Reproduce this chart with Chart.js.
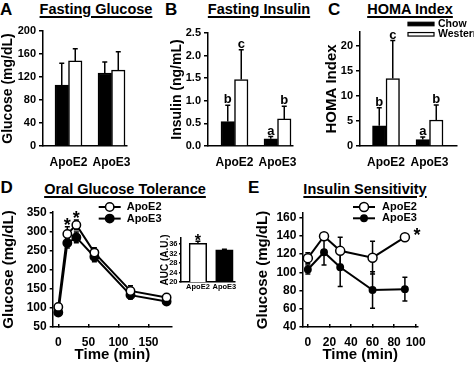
<!DOCTYPE html>
<html>
<head>
<meta charset="utf-8">
<script src="https://cdn.jsdelivr.net/npm/chart.js@4.4.0/dist/chart.umd.min.js"></script>
<style>
  body { margin: 0; background: #fff; width: 474px; height: 365px; overflow: hidden; position: relative;
         font-family: 'Liberation Sans', Arial, sans-serif; font-weight: bold; color: #000; }
  canvas { position: absolute; }
  .ttl { position: absolute; font-size: 14.5px; line-height: 1; white-space: nowrap; transform: translateX(-50%);
         text-decoration: underline; text-decoration-thickness: 1.5px; text-underline-offset: 2px; }
  .ltr { position: absolute; font-size: 17px; line-height: 1; }
</style>
</head>
<body>
<div class="ltr" style="left:0px;top:0.6px">A</div>
<div class="ltr" style="left:165px;top:0.6px">B</div>
<div class="ltr" style="left:328px;top:0.6px">C</div>
<div class="ltr" style="left:0.5px;top:179px">D</div>
<div class="ltr" style="left:248px;top:179px">E</div>
<div class="ttl" style="left:96px;top:1.7px">Fasting Glucose</div>
<div class="ttl" style="left:259px;top:1.7px">Fasting Insulin</div>
<div class="ttl" style="left:410px;top:1.7px">HOMA Index</div>
<div class="ttl" style="left:125px;top:181.7px">Oral Glucose Tolerance</div>
<div class="ttl" style="left:365px;top:181.7px">Insulin Sensitivity</div>
<script>
const FONT = "'Liberation Sans', Arial, sans-serif";

// ---- data ----
const groups = ['ApoE2', 'ApoE3'];
const diets = ['Chow', 'Western'];

// A: fasting glucose (mg/dL)
const glucoseChow = [106, 127];
const glucoseChowErr = [38, 19];
const glucoseWestern = [148, 132];
const glucoseWesternErr = [21, 32];
const glucoseTicks = [0, 40, 80, 120, 160, 200];

// B: fasting insulin (ng/mL)
const insulinChow = [0.54, 0.16];
const insulinChowErr = [0.36, 0.05];
const insulinWestern = [1.47, 0.60];
const insulinWesternErr = [0.66, 0.28];
const insulinTicks = [0, 0.5, 1, 1.5, 2, 2.5];

// C: HOMA index
const homaChow = [4.05, 1.3];
const homaChowErr = [3.6, 0.5];
const homaWestern = [13.5, 5.2];
const homaWesternErr = [7.6, 3.0];
const homaTicks = [0, 5, 10, 15, 20];

// letters above bars (B and C)
const chowLetters = ['b', 'a'];
const westernLetters = ['c', 'b'];

// D: oral glucose tolerance (mg/dL)
const ogttTime = [0, 15, 30, 60, 120, 180];
const ogttE2 = [103, 295, 319, 246, 145, 128];
const ogttE2Err = [5, 19, 13, 13, 14, 9];
const ogttE3 = [88, 271, 286, 235, 134, 117];
const ogttE3Err = [6, 13, 14, 13, 10, 6];
const ogttStars = ['', '*', '*', '', '', ''];
const ogttTicksY = [50, 100, 150, 200, 250, 300, 350];
const ogttTicksX = [0, 50, 100, 150];

// D inset: AUC (A.U.)
const aucValues = [36.3, 33.5];
const aucErr = [0.8, 0.3];
const aucStars = ['*', ''];
const aucTicks = [20, 24, 28, 32, 36];

// E: insulin sensitivity (mg/dL)
const itTime = [0, 15, 30, 60, 90];
const itE2 = [115.5, 139.5, 123.5, 116, 138.5];
const itE2Err = [6, 2, 15, 18, 0];
const itE3 = [103, 122, 105.5, 80.5, 81.5];
const itE3Err = [5, 14, 21, 20, 13];
const itStars = ['', '', '', '', '*'];
const itTicksY = [40, 60, 80, 100, 120, 140, 160];
const itTicksX = [0, 20, 40, 60, 80, 100];

// ---- setup ----
Chart.defaults.font.family = FONT;
Chart.defaults.font.weight = 'bold';
Chart.defaults.color = '#000';
Chart.defaults.animation = false;
Chart.defaults.plugins.legend.display = false;
Chart.defaults.plugins.tooltip.enabled = false;

function makeCanvas(left, top, width, height) {
  const c = document.createElement('canvas');
  c.width = width; c.height = height;
  c.style.left = left + 'px'; c.style.top = top + 'px';
  c.style.width = width + 'px'; c.style.height = height + 'px';
  document.body.appendChild(c);
  return c;
}

// error bars + letters/stars, read from the dataset
const errorPlugin = {
  id: 'errorMarks',
  beforeDatasetsDraw(chart) {
    const ctx = chart.ctx, ys = chart.scales.y;
    ctx.save();
    ctx.strokeStyle = '#000';
    chart.data.datasets.forEach((ds, i) => {
      if (!ds.errors) return;
      const meta = chart.getDatasetMeta(i);
      ctx.lineWidth = ds.errWidth || 1.5;
      meta.data.forEach((el, j) => {
        const v = ds.data[j].y, e = ds.errors[j];
        if (!e) return;
        const top = ys.getPixelForValue(v + e);
        const bot = ys.getPixelForValue(ds.errUpOnly ? v : v - e);
        const c = ds.capWidth / 2;
        ctx.beginPath();
        ctx.moveTo(el.x, bot); ctx.lineTo(el.x, top);
        ctx.moveTo(el.x - c, top); ctx.lineTo(el.x + c, top);
        if (!ds.errUpOnly) { ctx.moveTo(el.x - c, bot); ctx.lineTo(el.x + c, bot); }
        ctx.stroke();
      });
    });
    ctx.restore();
  },
  afterDatasetsDraw(chart) {
    const ctx = chart.ctx, ys = chart.scales.y;
    ctx.save();
    ctx.fillStyle = '#000';
    ctx.textAlign = 'center';
    ctx.textBaseline = 'alphabetic';
    chart.data.datasets.forEach((ds, i) => {
      if (!ds.notes) return;
      const meta = chart.getDatasetMeta(i);
      ctx.font = 'bold ' + ds.noteFont + 'px ' + FONT;
      meta.data.forEach((el, j) => {
        const t = ds.notes[j];
        if (!t) return;
        const top = ys.getPixelForValue(ds.data[j].y + (ds.errors[j] || 0));
        ctx.fillText(t, el.x + ds.noteOffset[0], top + ds.noteOffset[1]);
      });
    });
    ctx.restore();
  }
};

function legendPlugin(cfg) {
  return {
    id: 'legendSample',
    afterDraw(chart) {
      const ctx = chart.ctx, a = chart.chartArea;
      ctx.save();
      ctx.font = 'bold ' + cfg.size + 'px ' + FONT;
      ctx.textBaseline = 'middle';
      chart.data.datasets.forEach((ds, i) => {
        const y = a.top + cfg.y + i * cfg.dy;
        const x0 = a.left + cfg.x, x1 = x0 + cfg.w;
        ctx.strokeStyle = '#000';
        if (cfg.kind === 'bar') {
          ctx.fillStyle = ds.backgroundColor;
          ctx.lineWidth = 1.2;
          ctx.fillRect(x0, y - cfg.h / 2, cfg.w, cfg.h);
          ctx.strokeRect(x0, y - cfg.h / 2, cfg.w, cfg.h);
        } else {
          ctx.lineWidth = ds.borderWidth;
          ctx.beginPath(); ctx.moveTo(x0, y); ctx.lineTo(x1, y); ctx.stroke();
          ctx.beginPath(); ctx.arc((x0 + x1) / 2, y, ds.pointRadius, 0, Math.PI * 2);
          ctx.fillStyle = ds.pointBackgroundColor; ctx.fill();
          ctx.lineWidth = ds.pointBorderWidth; ctx.stroke();
        }
        ctx.fillStyle = '#000';
        ctx.fillText(ds.label, x1 + cfg.gap, y);
      });
      ctx.restore();
    }
  };
}

function yAxis(o) {
  return {
    type: 'linear', min: o.min, max: o.max, bounds: 'data',
    afterFit: s => { s.width = o.width; },
    afterBuildTicks: s => { s.ticks = o.ticks.map(v => ({ value: v })); },
    grid: { display: true, drawOnChartArea: false, drawTicks: true, tickLength: o.tickLen, color: '#000', lineWidth: 1.5 },
    border: { display: true, color: '#000', width: 1.5 },
    ticks: { font: { size: o.tickSize, weight: 'bold' }, padding: o.pad, color: '#000', autoSkip: false,
             callback: v => v.toFixed(o.dec || 0) },
    title: { display: true, text: o.title, font: { size: o.titleSize, weight: 'bold' }, padding: 0, color: '#000' }
  };
}

function xAxis(o) {
  return {
    type: 'linear', min: o.min, max: o.max, bounds: 'data', offset: false,
    afterFit: s => { s.height = o.height; },
    afterBuildTicks: s => { s.ticks = o.ticks.map(v => ({ value: v })); },
    grid: { display: !!o.tickLen, drawOnChartArea: false, drawTicks: !!o.tickLen, tickLength: o.tickLen || 0, color: '#000', lineWidth: 1.5, offset: false },
    border: { display: true, color: '#000', width: 1.5 },
    ticks: { font: { size: o.tickSize, weight: 'bold' }, padding: o.pad, color: '#000', autoSkip: false, maxRotation: 0,
             callback: o.labels ? (v => o.labels[Math.round(v)]) : (v => v) },
    title: o.title ? { display: true, text: o.title, font: { size: o.titleSize, weight: 'bold' }, padding: 0, color: '#000' } : { display: false }
  };
}

function barSet(label, values, errs, notes, fill, thickness) {
  return {
    label, data: values.map((v, i) => ({ x: i, y: v })),
    errors: errs, errUpOnly: true, capWidth: 5, notes, noteFont: 13, noteOffset: [0, -2],
    backgroundColor: fill, borderColor: '#000', borderWidth: 1.5, barThickness: thickness
  };
}

function lineSet(label, xs, values, errs, notes, fill, radius, noteOffset) {
  return {
    label, data: xs.map((x, i) => ({ x, y: values[i] })),
    errors: errs, errUpOnly: false, capWidth: 5, notes, noteFont: 18, noteOffset,
    borderColor: '#000', borderWidth: 2, tension: 0, clip: false,
    pointRadius: radius, pointBackgroundColor: fill, pointBorderColor: '#000', pointBorderWidth: 1.5
  };
}

function barPanel(c, cfg) {
  new Chart(c, {
    type: 'bar',
    data: { datasets: cfg.datasets },
    options: {
      responsive: false,
      layout: { padding: cfg.padding },
      scales: {
        x: xAxis({ min: cfg.xMin, max: cfg.xMax, height: cfg.xHeight, ticks: [0, 1], labels: groups, tickSize: cfg.xTickSize, pad: cfg.xPad }),
        y: yAxis({ min: cfg.yMin, max: cfg.yMax, width: cfg.yWidth, ticks: cfg.yTicks, tickLen: cfg.tickLen, tickSize: cfg.yTickSize,
                   pad: cfg.yPad, dec: cfg.dec, title: cfg.yTitle, titleSize: cfg.titleSize })
      }
    },
    plugins: [errorPlugin].concat(cfg.plugins || [])
  });
}

// ---- A ----
barPanel(makeCanvas(0, 18, 147, 158), {
  datasets: [barSet(diets[0], glucoseChow, glucoseChowErr, null, '#000', 13.5),
             barSet(diets[1], glucoseWestern, glucoseWesternErr, null, '#fff', 13.5)],
  padding: { top: 13, right: 20, bottom: 0, left: 0 },
  xMin: -0.593, xMax: 1.36, xHeight: 30, xTickSize: 12, xPad: 9,
  yMin: 0, yMax: 200, yWidth: 43, yTicks: glucoseTicks, tickLen: 4, yTickSize: 11, yPad: 3, dec: 0,
  yTitle: 'Glucose (mg/dL)', titleSize: 14
});

// ---- B ----
barPanel(makeCanvas(169, 18, 144, 158), {
  datasets: [barSet(diets[0], insulinChow, insulinChowErr, chowLetters, '#000', 13.5),
             barSet(diets[1], insulinWestern, insulinWesternErr, westernLetters, '#fff', 13.5)],
  padding: { top: 15, right: 20, bottom: 0, left: 0 },
  xMin: -0.616, xMax: 1.36, xHeight: 30, xTickSize: 12, xPad: 9,
  yMin: 0, yMax: 2.5, yWidth: 39, yTicks: insulinTicks, tickLen: 4, yTickSize: 11, yPad: 3, dec: 1,
  yTitle: 'Insulin (ng/mL)', titleSize: 14
});

// ---- C ----
barPanel(makeCanvas(323, 14, 151, 162), {
  datasets: [barSet(diets[0], homaChow, homaChowErr, chowLetters, '#000', 13.5),
             barSet(diets[1], homaWestern, homaWesternErr, westernLetters, '#fff', 13.5)],
  padding: { top: 18, right: 17, bottom: 0, left: 0 },
  xMin: -0.598, xMax: 1.632, xHeight: 30, xTickSize: 12, xPad: 9,
  yMin: 0, yMax: 22.8, yWidth: 37, yTicks: homaTicks, tickLen: 4, yTickSize: 11, yPad: 3, dec: 0,
  yTitle: 'HOMA Index', titleSize: 15,
  plugins: [legendPlugin({ kind: 'bar', x: 48, y: -8, dy: 10.3, w: 26, h: 3.5, gap: 4, size: 10.5 })]
});

// ---- D ----
new Chart(makeCanvas(0, 198, 182, 166), {
  type: 'line',
  data: { datasets: [
    lineSet(groups[0], ogttTime, ogttE2, ogttE2Err, ogttStars, '#fff', 4.2, [0, 4]),
    lineSet(groups[1], ogttTime, ogttE3, ogttE3Err, null, '#000', 4.2, [0, 4])
  ]},
  options: {
    responsive: false,
    layout: { padding: { top: 14, right: 10, bottom: 0, left: 0 } },
    scales: {
      x: xAxis({ min: -9.3, max: 189, height: 37, ticks: ogttTicksX, tickLen: -3, tickSize: 12, pad: 11,
                 title: 'Time (min)', titleSize: 15 }),
      y: yAxis({ min: 50, max: 353, width: 52.7, ticks: ogttTicksY, tickLen: 3, tickSize: 12, pad: 3,
                 title: 'Glucose (mg/dL)', titleSize: 15 })
    }
  },
  plugins: [errorPlugin, legendPlugin({ kind: 'line', x: 46, y: -5, dy: 11.6, w: 22, gap: 6, size: 11 })]
});

// ---- D inset: AUC ----
new Chart(makeCanvas(159, 228, 86, 66), {
  type: 'bar',
  data: { datasets: [{
    label: 'AUC', data: aucValues.map((v, i) => ({ x: i, y: v })),
    errors: aucErr, errUpOnly: true, capWidth: 5, notes: aucStars, noteFont: 16, noteOffset: [0, 5],
    backgroundColor: ['#fff', '#000'], borderColor: '#000', borderWidth: 1.5, barThickness: 17.5
  }]},
  options: {
    responsive: false,
    layout: { padding: { top: 10, right: 10, bottom: 0, left: 0 } },
    scales: {
      x: xAxis({ min: -0.64, max: 1.40, height: 12, ticks: [0, 1], labels: groups, tickSize: 7.5, pad: 0.5 }),
      y: yAxis({ min: 20, max: 38.5, width: 22, ticks: aucTicks, tickLen: 2, tickSize: 7.5, pad: 1.5,
                 title: 'AUC (A.U.)', titleSize: 10 })
    }
  },
  plugins: [errorPlugin]
});

// ---- E ----
new Chart(makeCanvas(254.3, 198, 183, 166), {
  type: 'line',
  data: { datasets: [
    lineSet(groups[0], itTime, itE2, itE2Err, itStars, '#fff', 4.5, [12, 4]),
    lineSet(groups[1], itTime, itE3, itE3Err, null, '#000', 3.2, [0, 4])
  ]},
  options: {
    responsive: false,
    layout: { padding: { top: 15, right: 15, bottom: 0, left: 0 } },
    scales: {
      x: xAxis({ min: -5.05, max: 102.2, height: 37, ticks: itTicksX, tickLen: -3, tickSize: 12, pad: 11,
                 title: 'Time (min)', titleSize: 15 }),
      y: yAxis({ min: 40, max: 165, width: 48.4, ticks: itTicksY, tickLen: 3, tickSize: 12, pad: 3,
                 title: 'Glucose (mg/dL)', titleSize: 15 })
    }
  },
  plugins: [errorPlugin, legendPlugin({ kind: 'line', x: 50.6, y: -6, dy: 11.3, w: 22, gap: 7, size: 11 })]
});
</script>
</body>
</html>
